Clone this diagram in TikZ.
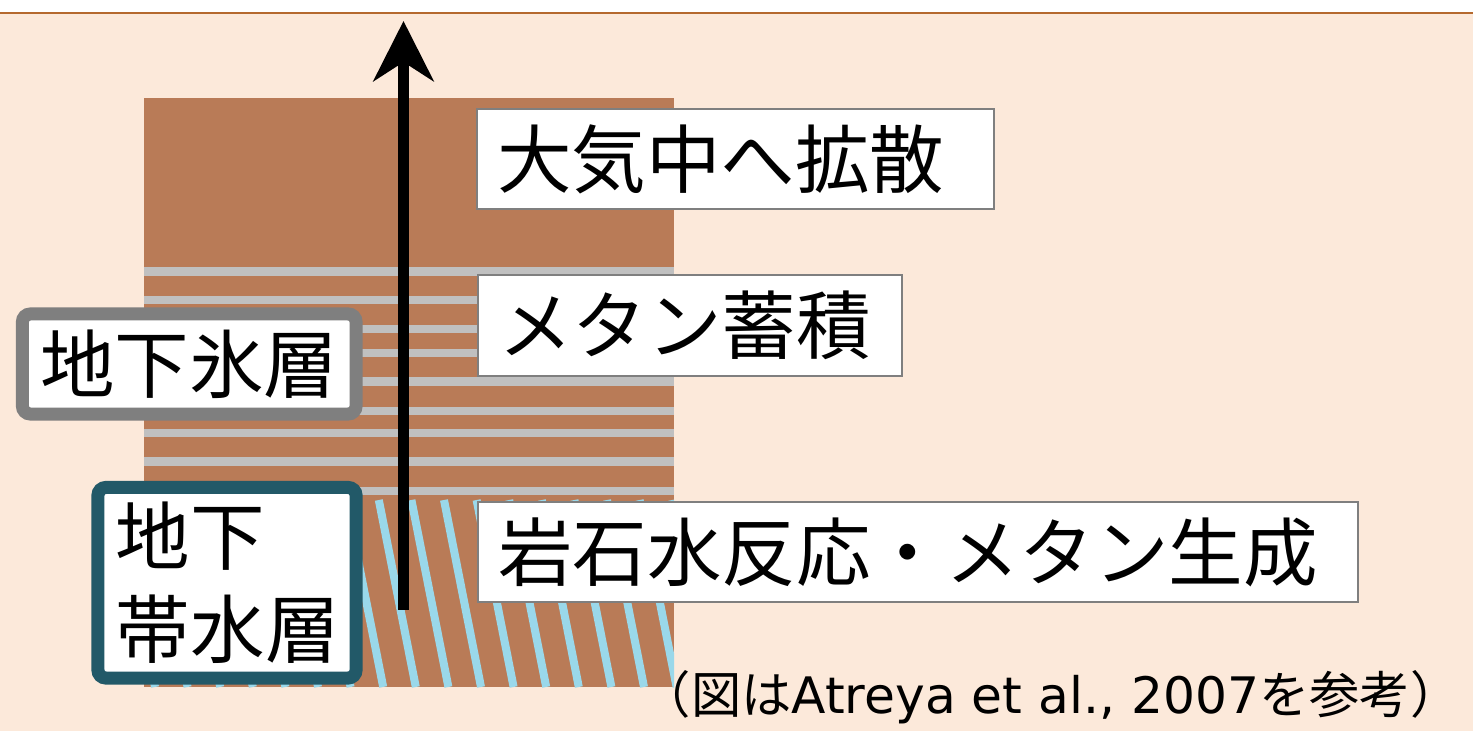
\documentclass[tikz,border=0pt]{standalone}
\usepackage{fontspec}
\setmainfont{Noto Sans CJK JP}
\newfontfamily\latinfont{DejaVu Sans}
\usetikzlibrary{arrows.meta}

\definecolor{peach}{HTML}{FCE9DA}
\definecolor{soil}{HTML}{B97B57}
\definecolor{icegray}{HTML}{C0C0C0}
\definecolor{waterblue}{HTML}{9AD8EA}
\definecolor{aquiferteal}{HTML}{225968}
\definecolor{framegray}{HTML}{7F7F7F}
\definecolor{rimbrown}{HTML}{B5692E}

\begin{document}
\begin{tikzpicture}[x=0.01cm, y=-0.01cm,
  bigtext/.style={font=\fontsize{21.2pt}{26.2pt}\selectfont},
  layerbox/.style={bigtext, draw=#1, line width=0.13cm, rounded corners=0.08cm,
    fill=white, inner sep=0pt, outer sep=0pt},
  notebox/.style={bigtext, draw=framegray, line width=0.02cm, fill=white,
    anchor=north west, minimum height=1cm, inner xsep=0.2cm, inner ysep=0pt,
    outer sep=0pt, align=left, text width=#1},
  stripe/.style={icegray, line width=0.085cm},
  hatch/.style={waterblue, line width=0.08cm}]
\useasboundingbox (0,0) rectangle (1473,731);

% Background
\fill[white] (0,0) rectangle (1473,13);
\fill[peach] (0,13) rectangle (1473,731);
\draw[rimbrown, line width=0.02cm] (0,13) -- (1473,13);

% Ground column
\fill[soil] (144,98) rectangle (674,687);

% Ice layers
\foreach \y in {271.5,300,329,353,381.5,411,433,461.5,491}
  \draw[stripe] (144,\y) -- (674,\y);

% Aquifer hatching
\begin{scope}
  \clip (144,500) rectangle (674,687);
  \foreach \k in {-1,...,17}
    \draw[hatch] ({118+32.6*\k},500) -- ++(37,187);
\end{scope}

% Methane path
\coordinate (source) at (403.5,610);
\coordinate (air) at (403.5,21);
\draw[line width=0.11cm, -{Stealth[length=0.6cm, width=0.6cm, inset=0.19cm]}] (source) -- (air);

% Layer labels
\node[layerbox=framegray, minimum width=3.335cm, minimum height=1cm] (icelayer)
  at (189.25,364) {地下氷層};
\node[layerbox=aquiferteal, minimum width=2.58cm, minimum height=1.905cm,
  text width=2.22cm, align=left] (aquifer) at (227,582.75) {地下\\帯水層};

% Process labels
\node[notebox=4.77cm] (escape) at (477,109) {大気中へ拡散};
\node[notebox=3.84cm, minimum height=1.01cm] (storage) at (478,275) {メタン蓄積};
\node[notebox=8.39cm] (reaction) at (478,502) {岩石水反応・メタン生成};

% Reference note
\node[anchor=base west, inner sep=0pt, font=\fontsize{14.3pt}{17pt}\selectfont] (cite)
  at (640,713) {（図は{\latinfont Atreya et al., 2007}を参考）};
\end{tikzpicture}
\end{document}
